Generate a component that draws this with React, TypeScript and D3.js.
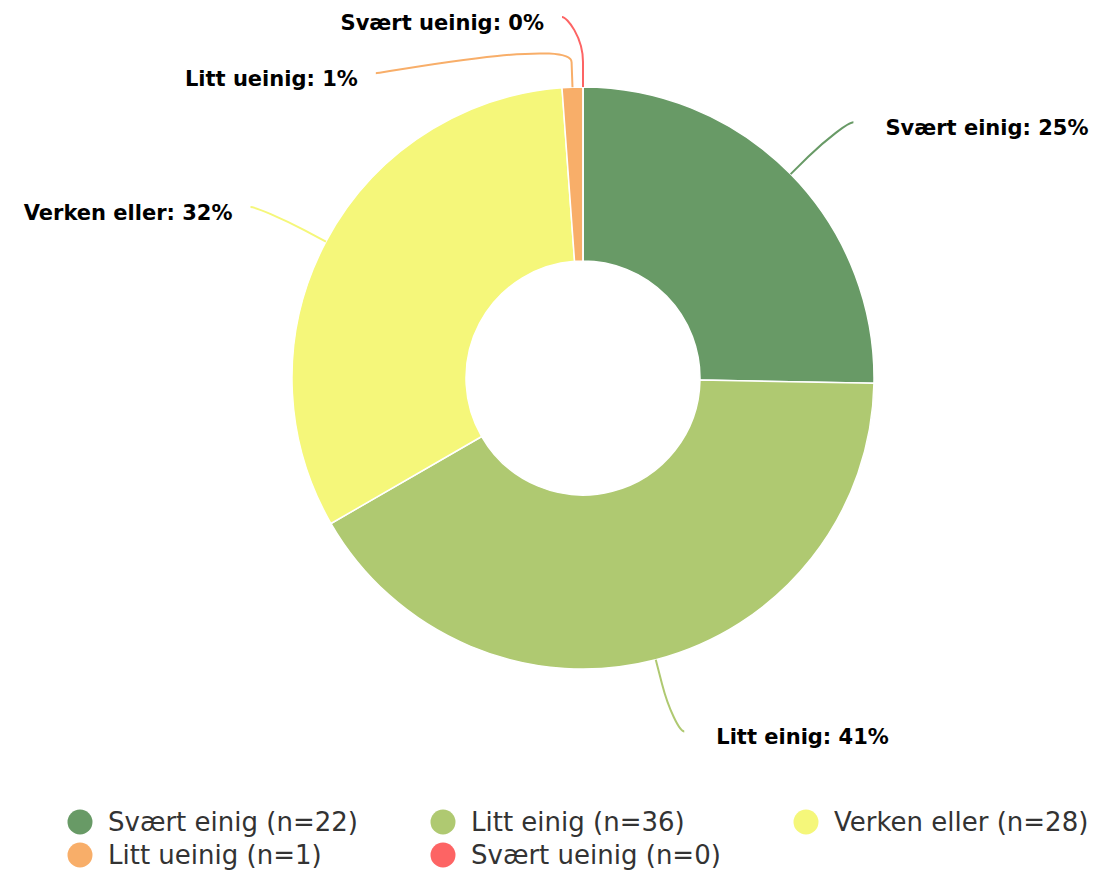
import * as d3 from "d3";

const categories = ["Svært einig", "Litt einig", "Verken eller", "Litt ueinig", "Svært ueinig"];
const counts = [22, 36, 28, 1, 0];
const colors = ["#689a66", "#afc971", "#f5f77a", "#f8ae69", "#fd6464"];

// label nudges where the labels would collide at the top
const labelNudge: [number, number][] = [[0, 0], [0, 0], [0, 0], [-184, 60], [-11, 4]];

const W = 1102, H = 872;
const cx = 583, cy = 378, R = 291, r0 = 117;
const labelR = 365, breakR = 316;

type Slice = d3.PieArcDatum<number>;

export default function App() {
  const pie = d3.pie<number>().sort(null).value((d) => d).startAngle(0).endAngle(2 * Math.PI);
  const arcs: Slice[] = pie(counts);
  const arc = d3.arc<Slice>().innerRadius(r0).outerRadius(R);
  const total = d3.sum(counts);
  const pct = (v: number) => `${Math.round((v / total) * 100)}%`;

  const polar = (a: number, rad: number): [number, number] => [Math.sin(a) * rad, -Math.cos(a) * rad];

  const legendX = d3.scaleLinear().domain([0, 1]).range([80, 443]);
  const legendY = d3.scaleLinear().domain([0, 1]).range([822, 855]);

  return (
    <svg width={W} height={H} style={{ position: "absolute", left: 0, top: 0 }} fontFamily="'DejaVu Sans', Verdana, sans-serif">
      <g transform={`translate(${cx},${cy})`}>
        {arcs.map((a, i) => (
          <path key={i} d={arc(a) || ""} fill={colors[i]} stroke="#ffffff" strokeWidth={1.5} strokeLinejoin="round" />
        ))}
        {arcs.map((a, i) => {
          const mid = (a.startAngle + a.endAngle) / 2;
          const right = mid < Math.PI;
          const [tx, ty] = polar(mid, R);
          const [bx, by] = polar(mid, breakR);
          const [nx, ny] = polar(mid, labelR);
          const lx = nx + (right ? 10 : -10) + labelNudge[i][0];
          const ly = ny + labelNudge[i][1];
          const path = `M${lx},${ly} C${lx + (right ? -5 : 5)},${ly} ${2 * bx - tx},${2 * by - ty} ${bx},${by} L${tx},${ty}`;
          const gap = right ? 32 : 18;
          return (
            <g key={"l" + i}>
              <path d={path} fill="none" stroke={colors[i]} strokeWidth={2} />
              <text
                x={right ? lx + gap : lx - gap}
                y={ly + 6}
                textAnchor={right ? "start" : "end"}
                dominantBaseline="central"
                fontSize={21}
                fontWeight="bold"
                fill="#000000"
              >
                {`${categories[i]}: ${pct(counts[i])}`}
              </text>
            </g>
          );
        })}
      </g>
      <g>
        {categories.map((c, i) => {
          const x = legendX(i % 3);
          const y = legendY(Math.floor(i / 3));
          return (
            <g key={"lg" + i} transform={`translate(${x},${y})`}>
              <circle r={12.5} fill={colors[i]} />
              <text x={28} dominantBaseline="central" fontSize={26} fill="#333333">
                {`${c} (n=${counts[i]})`}
              </text>
            </g>
          );
        })}
      </g>
    </svg>
  );
}
